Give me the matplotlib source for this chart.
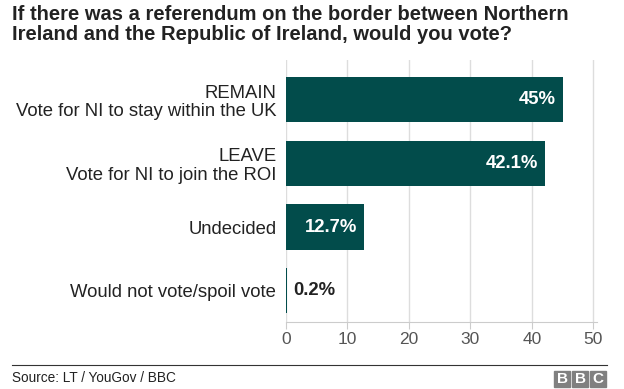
import numpy as np
import matplotlib.pyplot as plt
from matplotlib.patches import Rectangle

plt.rcParams['font.family'] = ['Liberation Sans', 'DejaVu Sans']

# data
categories = ['REMAIN\nVote for NI to stay within the UK',
              'LEAVE\nVote for NI to join the ROI',
              'Undecided',
              'Would not vote/spoil vote']
values = [45, 42.1, 12.7, 0.2]
value_labels = ['45%', '42.1%', '12.7%', '0.2%']
xticks = [0, 10, 20, 30, 40, 50]

title = 'If there was a referendum on the border between Northern\nIreland and the Republic of Ireland, would you vote?'
source = 'Source: LT / YouGov / BBC'

bar_color = '#024c4b'
W, H = 624, 389
fig = plt.figure(figsize=(W / 100, H / 100), dpi=100)
ax = fig.add_axes([286 / W, 1 - 322 / H, (597 - 286) / W, (322 - 60) / H])

ypos = np.arange(len(categories))
ax.barh(ypos, values, height=0.707, color=bar_color, zorder=3)
ax.set_xlim(0, 50.6)
ax.set_ylim(3.49, -0.62)

for y, v, lab in zip(ypos, values, value_labels):
    if v > 5:
        ax.text(v - 1.1, y, lab, ha='right', va='center', color='white',
                fontsize=13.3, fontweight='bold', zorder=4)
    else:
        ax.text(v + 1.0, y, lab, ha='left', va='center', color='#222222',
                fontsize=13.3, fontweight='bold', zorder=4)

ax.set_xticks(xticks)
ax.set_xticklabels([str(t) for t in xticks], fontsize=12.5, color='#555555')
ax.set_yticks(ypos)
ax.set_yticklabels(categories, fontsize=13.3, color='#222222', ha='right',
                   multialignment='right', linespacing=1.15)
ax.tick_params(axis='y', length=0, pad=7)
ax.tick_params(axis='x', length=5, color='#cccccc', pad=2)
ax.xaxis.grid(True, color='#dddddd', linewidth=1, zorder=0)
for s in ['top', 'right', 'left']:
    ax.spines[s].set_visible(False)
ax.spines['bottom'].set_color('#cccccc')

# title
fig.text(12 / W, 1 - 5 / H, title, ha='left', va='top', fontsize=14.5,
         fontweight='bold', color='#222222', linespacing=1.1)

# footer
fig.add_artist(plt.Line2D([12 / W, 607 / W], [1 - 365 / H, 1 - 365 / H],
                          color='#333333', linewidth=0.8))
fig.text(12 / W, 1 - 378 / H, source, ha='left', va='center', fontsize=9.8,
         color='#222222')

# BBC blocks
for i, letter in enumerate('BBC'):
    x0 = 554 + i * 18
    fig.add_artist(Rectangle((x0 / W, 1 - 387 / H), 16 / W, 16 / H,
                             transform=fig.transFigure, color='#808080'))
    fig.text((x0 + 8) / W, 1 - 379 / H, letter, ha='center', va='center',
             fontsize=11, fontweight='bold', color='white')

fig.savefig('out.png', dpi=100)
